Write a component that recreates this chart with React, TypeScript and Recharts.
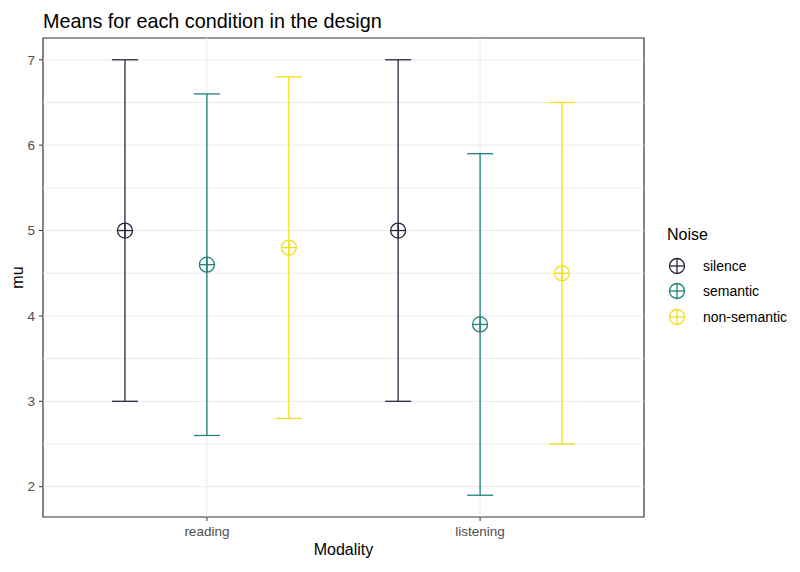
import React from 'react';
import {
  ScatterChart,
  Scatter,
  XAxis,
  YAxis,
  ErrorBar,
  ReferenceLine,
  ReferenceArea,
} from 'recharts';

// Conditions of the design
const modalities = ['reading', 'listening'];
const noiseLevels = ['silence', 'semantic', 'non-semantic'];
const noiseColors = ['#2b2541', '#21807b', '#f5df1a'];

// Means per noise level (reading, listening)
const meanSilence = [5.0, 5.0];
const meanSemantic = [4.6, 3.9];
const meanNonSemantic = [4.8, 4.5];

// Interval bounds per noise level (reading, listening)
const lowSilence = [3.0, 3.0];
const lowSemantic = [2.6, 1.9];
const lowNonSemantic = [2.8, 2.5];
const highSilence = [7.0, 7.0];
const highSemantic = [6.6, 5.9];
const highNonSemantic = [6.8, 6.5];

// Axis ticks
const yTicks = [2, 3, 4, 5, 6, 7];
const yMinorTicks = [2.5, 3.5, 4.5, 5.5, 6.5];
const xTicks = [1, 2];

const FONT = '"Liberation Sans", Arial, Helvetica, sans-serif';
const dodge = [-0.3, 0, 0.3];

const means = [meanSilence, meanSemantic, meanNonSemantic];
const lows = [lowSilence, lowSemantic, lowNonSemantic];
const highs = [highSilence, highSemantic, highNonSemantic];

const seriesData = noiseLevels.map((_, s) =>
  modalities.map((m, i) => ({
    x: i + 1 + dodge[s],
    y: means[s][i],
    err: [means[s][i] - lows[s][i], highs[s][i] - means[s][i]],
  }))
);

const CirclePlus = (color: string) => (props: any) => {
  const { cx, cy } = props;
  const r = 7.5;
  return (
    <g>
      <circle cx={cx} cy={cy} r={r} fill="none" stroke={color} strokeWidth={1.3} />
      <line x1={cx - r} y1={cy} x2={cx + r} y2={cy} stroke={color} strokeWidth={1.3} />
      <line x1={cx} y1={cy - r} x2={cx} y2={cy + r} stroke={color} strokeWidth={1.3} />
    </g>
  );
};

const LegendSymbol = ({ color }: { color: string }) => (
  <svg width={20} height={20} style={{ display: 'block' }}>
    <circle cx={10} cy={10} r={7.5} fill="none" stroke={color} strokeWidth={1.3} />
    <line x1={2.5} y1={10} x2={17.5} y2={10} stroke={color} strokeWidth={1.3} />
    <line x1={10} y1={2.5} x2={10} y2={17.5} stroke={color} strokeWidth={1.3} />
  </svg>
);

export default function App() {
  return (
    <div style={{ position: 'absolute', left: 0, top: 0, width: 800, height: 572, background: '#fff', fontFamily: FONT }}>
      <div
        style={{
          position: 'absolute',
          left: 43,
          top: 10,
          fontSize: 19.8,
          lineHeight: '22px',
          color: '#000',
          whiteSpace: 'nowrap',
        }}
      >
        Means for each condition in the design
      </div>

      <ScatterChart
        width={800}
        height={572}
        margin={{ top: 38, right: 156, bottom: 0, left: 0 }}
      >
        {yTicks.concat(yMinorTicks).map((v) => (
          <ReferenceLine key={'h' + v} y={v} stroke="#ebebeb" strokeWidth={1} />
        ))}
        {xTicks.map((v) => (
          <ReferenceLine key={'v' + v} x={v} stroke="#ebebeb" strokeWidth={1} />
        ))}
        <XAxis
          type="number"
          dataKey="x"
          domain={[0.4, 2.6]}
          ticks={xTicks}
          tickFormatter={(v: number) => modalities[v - 1]}
          allowDataOverflow
          height={55}
          axisLine={false}
          tickLine={{ stroke: '#333333' }}
          tickSize={4}
          tickMargin={5}
          tick={{ fill: '#4d4d4d', fontSize: 13.5, fontFamily: FONT }}
          label={{
            value: 'Modality',
            position: 'insideBottom',
            offset: 17,
            fill: '#000',
            fontSize: 16,
            fontFamily: FONT,
          }}
        />
        <YAxis
          type="number"
          dataKey="y"
          domain={[1.645, 7.255]}
          ticks={yTicks}
          allowDataOverflow
          width={43}
          axisLine={false}
          tickLine={{ stroke: '#333333' }}
          tickSize={4}
          tickMargin={4}
          tick={{ fill: '#4d4d4d', fontSize: 13.5, fontFamily: FONT }}
          label={{
            value: 'mu',
            angle: -90,
            position: 'center',
            dx: -4,
            fill: '#000',
            fontSize: 16,
            fontFamily: FONT,
          }}
        />
        {noiseLevels.map((name, s) => (
          <Scatter
            key={name}
            name={name}
            data={seriesData[s]}
            fill={noiseColors[s]}
            shape={CirclePlus(noiseColors[s])}
            isAnimationActive={false}
          >
            <ErrorBar
              dataKey="err"
              direction="y"
              width={13}
              stroke={noiseColors[s]}
              strokeWidth={1.3}
              isAnimationActive={false}
            />
          </Scatter>
        ))}
        <ReferenceArea
          x1={0.4}
          x2={2.6}
          y1={1.645}
          y2={7.255}
          fill="none"
          fillOpacity={0}
          stroke="#333333"
          strokeWidth={1.2}
          strokeOpacity={1}
        />
      </ScatterChart>

      <div style={{ position: 'absolute', left: 667, top: 225, color: '#000' }}>
        <div style={{ fontSize: 16, lineHeight: '20px', marginBottom: 8 }}>Noise</div>
        {noiseLevels.map((name, s) => (
          <div key={name} style={{ display: 'flex', alignItems: 'center', height: 25.5 }}>
            <div style={{ width: 20 }}>
              <LegendSymbol color={noiseColors[s]} />
            </div>
            <div style={{ marginLeft: 16, fontSize: 14, whiteSpace: 'nowrap' }}>{name}</div>
          </div>
        ))}
      </div>
    </div>
  );
}
